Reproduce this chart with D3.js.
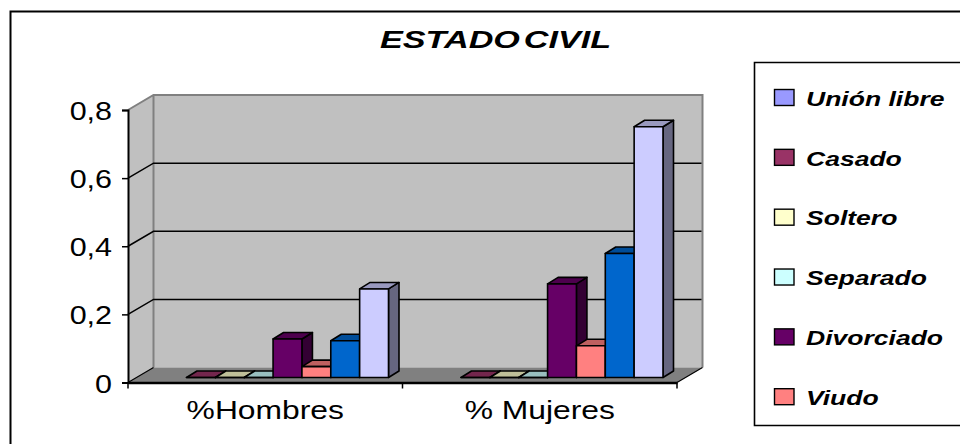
<!DOCTYPE html>
<html><head><meta charset="utf-8">
<script src="https://cdn.jsdelivr.net/npm/d3@7"></script>
<style>html,body{margin:0;padding:0;background:#fff}svg{display:block}text{font-family:"Liberation Sans",Arial,sans-serif;fill:#000}</style>
</head><body><svg id="c" width="960" height="444"></svg>
<script>
const titleText = "ESTADO CIVIL";
const categories = ["%Hombres", "% Mujeres"];
const seriesNames = ["Casado", "Soltero", "Separado", "Divorciado", "Viudo", "Otro", "Unión libre"];
const hombres = [0, 0, 0, 0.113, 0.032, 0.108, 0.26];
const mujeres = [0, 0, 0, 0.275, 0.093, 0.364, 0.736];
const barColors = ["#993366", "#FFFFCC", "#CCFFFF", "#660066", "#FF8080", "#0066CC", "#CCCCFF"];
const legendNames = ["Unión libre", "Casado", "Soltero", "Separado", "Divorciado", "Viudo"];
const legendColors = ["#9999FF", "#993366", "#FFFFCC", "#CCFFFF", "#660066", "#FF8080"];
const yTicks = [0, 0.2, 0.4, 0.6, 0.8];

const svg = d3.select("#c");
const values = [hombres, mujeres];
// front plane of the 3D box
const L = 128, R = 677, wallDX = 25.5, wallDY = 15;
const y = d3.scaleLinear().domain([0, 0.8]).range([382.5, 110]);
const x0 = d3.scaleBand().domain(categories).range([L, R]).paddingInner(0).paddingOuter(0);
const barsInner = d3.scaleBand().domain(seriesNames).range([58.5, 260.5]);
const barDX = 10.5, barDY = 6.5, barShiftY = 5;

// stretched text: the reference text is wider than its natural metrics
function stretched(sel, k) {
  sel.each(function () {
    const n = this.getComputedTextLength();
    d3.select(this).attr("textLength", n * k).attr("lengthAdjust", "spacingAndGlyphs");
  });
  return sel;
}

// outer frame (only top and left visible)
svg.append("path").attr("d", "M10.5,444V11.5H960").attr("fill", "none").attr("stroke", "#000").attr("stroke-width", 2);

// title
stretched(svg.append("text").attr("x", 380).attr("y", 48.3).attr("font-size", 24.6).attr("word-spacing", -4)
  .attr("font-weight", "bold").attr("font-style", "italic").text(titleText), 1.39);

// walls
const yTop = y(0.8), y0 = y(0);
svg.append("path").attr("fill", "#C0C0C0")
  .attr("d", `M${L},${yTop}L${L + wallDX},${yTop - wallDY}H${R + wallDX}V${y0 - wallDY}H${L + wallDX}L${L},${y0}Z`);
svg.append("path").attr("fill", "#808080")
  .attr("d", `M${L},${y0}L${L + wallDX},${y0 - wallDY}H${R + wallDX}L${R},${y0}Z`);
svg.append("path").attr("fill", "none").attr("stroke", "#808080").attr("stroke-width", 2)
  .attr("d", `M${L},${yTop}L${L + wallDX},${yTop - wallDY}H${R + wallDX}V${y0 - wallDY}M${L + wallDX},${yTop - wallDY}V${y0 - wallDY}`);

// gridlines
svg.append("g").selectAll("path").data(yTicks.slice(1, 4)).join("path")
  .attr("fill", "none").attr("stroke", "#000").attr("stroke-width", 1.5)
  .attr("d", d => `M${L},${y(d)}L${L + wallDX},${y(d) - wallDY}H${R + wallDX - 1}`);
svg.append("path").attr("fill", "none").attr("stroke", "#000").attr("stroke-width", 1.2)
  .attr("d", `M${L},${y0}L${L + wallDX},${y0 - wallDY}M${R},${y0}L${R + wallDX},${y0 - wallDY}`);

// bars
const shade = (c, k) => { const r = d3.rgb(c); return d3.rgb(r.r * k, r.g * k, r.b * k).formatHex(); };
const barData = categories.flatMap((c, ci) => seriesNames.map((s, si) => ({ c, s, si, v: values[ci][si] })));
const bw = barsInner.bandwidth();
const bars = svg.append("g").selectAll("g").data(barData).join("g")
  .attr("stroke", "#000").attr("stroke-width", 1.6).attr("stroke-linejoin", "round");
const bx = d => x0(d.c) + barsInner(d.s);
const bb = y0 - barShiftY;
const bt = d => y(d.v) - barShiftY;
bars.append("path").attr("fill", d => shade(barColors[d.si], 0.5))
  .attr("d", d => `M${bx(d) + bw},${bb}L${bx(d) + bw + barDX},${bb - barDY}V${bt(d) - barDY}L${bx(d) + bw},${bt(d)}Z`);
bars.append("path").attr("fill", d => shade(barColors[d.si], 0.75))
  .attr("d", d => `M${bx(d)},${bt(d)}L${bx(d) + barDX},${bt(d) - barDY}H${bx(d) + bw + barDX}L${bx(d) + bw},${bt(d)}Z`);
bars.append("path").attr("fill", d => barColors[d.si])
  .attr("d", d => `M${bx(d)},${bb}V${bt(d)}H${bx(d) + bw}V${bb}Z`);

// axes
const yAxis = d3.axisLeft(y).tickValues(yTicks).tickSize(6).tickPadding(0)
  .tickFormat(d => d === 0 ? "0" : String(d).replace(".", ","));
const yg = svg.append("g").attr("transform", `translate(${L},0)`).call(yAxis);
yg.select(".domain").attr("stroke", "#000").attr("stroke-width", 2);
yg.selectAll("line").attr("stroke", "#000").attr("stroke-width", 1.5);
yg.selectAll("text").attr("x", -16).attr("dy", null).attr("y", 9.5).attr("font-size", 26.5).attr("font-family", null);
yg.attr("font-family", null).attr("font-size", null);
stretched(yg.selectAll("text"), 1.15);

const xAxis = d3.axisBottom(x0).tickSize(0).tickPadding(0);
const xg = svg.append("g").attr("transform", `translate(0,${y0})`).call(xAxis);
xg.attr("font-family", null).attr("font-size", null);
xg.select(".domain").attr("stroke", "#000").attr("stroke-width", 2.4);
xg.selectAll(".tick line").remove();
xg.selectAll("text").attr("dy", null).attr("y", 36.5).attr("font-size", 26.5)
  .attr("transform", "translate(0,0)");
stretched(xg.selectAll("text"), 1.2);
xg.selectAll(".sep").data([L, (L + R) / 2, R]).join("line").attr("class", "sep")
  .attr("x1", d => d).attr("x2", d => d).attr("y1", 0).attr("y2", 6).attr("stroke", "#000").attr("stroke-width", 1.5);

// legend
svg.append("path").attr("d", "M960,62.5H754.5V425.5H960").attr("fill", "none").attr("stroke", "#000").attr("stroke-width", 1.6);
const ly = d3.scalePoint().domain(legendNames).range([97.5, 396.7]);
const lg = svg.append("g").selectAll("g").data(legendNames).join("g").attr("transform", d => `translate(0,${ly(d)})`);
lg.append("rect").attr("x", 774.5).attr("y", -8).attr("width", 19.5).attr("height", 16)
  .attr("fill", (d, i) => legendColors[i]).attr("stroke", "#000").attr("stroke-width", 1.4);
stretched(lg.append("text").attr("x", 806).attr("y", 8.2).attr("font-size", 19.5)
  .attr("font-weight", "bold").attr("font-style", "italic").text(d => d), 1.36);
</script></body></html>
